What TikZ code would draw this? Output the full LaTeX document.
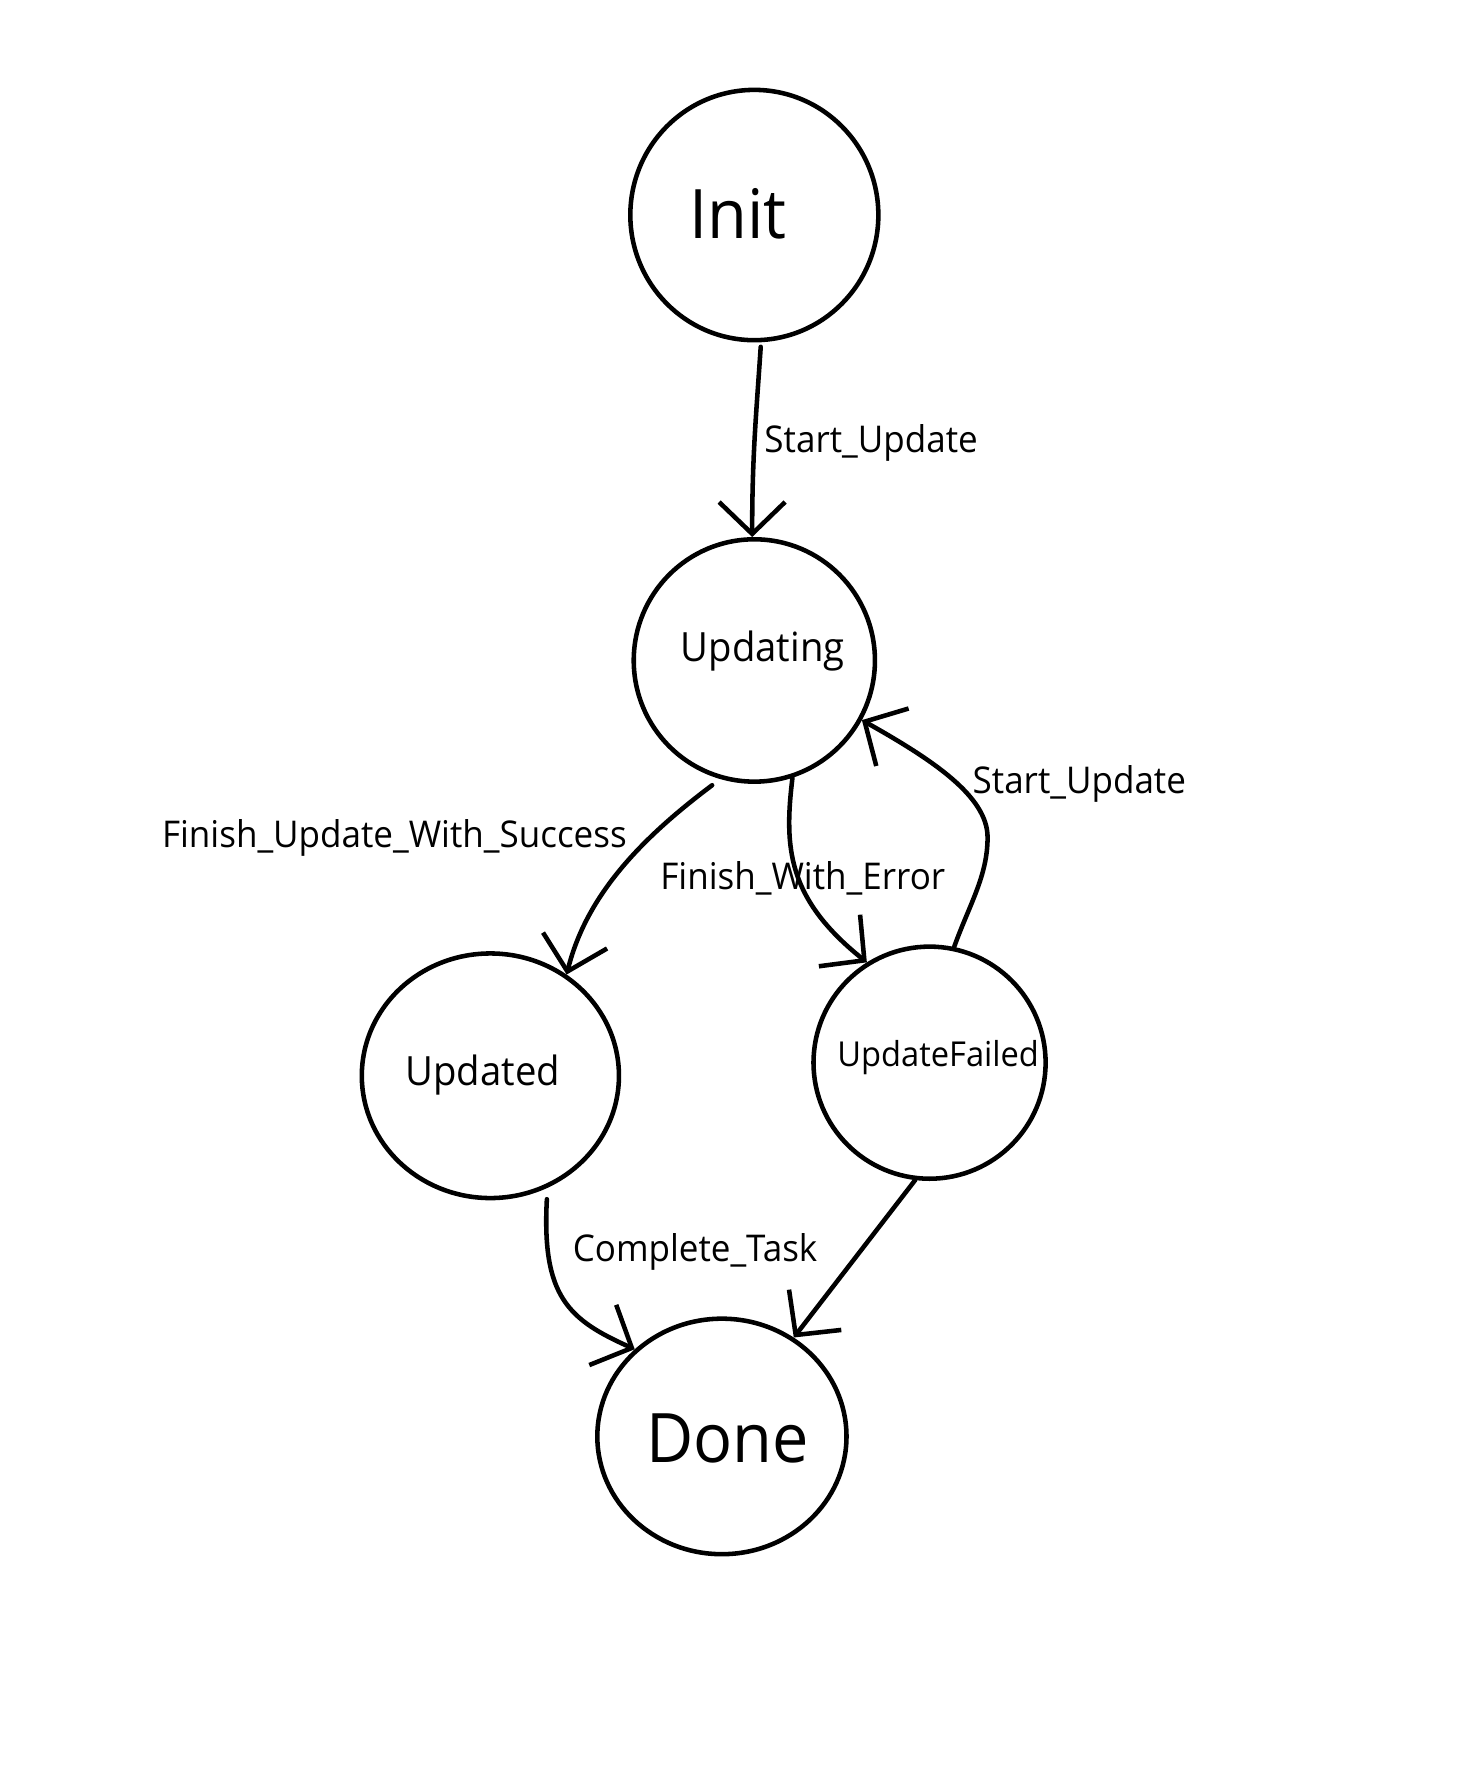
\documentclass[tikz,border=0pt]{standalone}
\usepackage{fontspec}
\setmainfont{Open Sans}[FakeStretch=0.95]
\usetikzlibrary{arrows.meta,shapes.geometric}
\begin{document}
\begin{tikzpicture}[x=0.5pt,y=-0.5pt,
  state/.style={draw,ellipse,line width=2pt,inner sep=0pt},
  conn/.style={line width=2pt,line cap=round,
    -{Straight Barb[length=14pt,width=29pt,line width=2pt]}},
  lbl/.style={anchor=base west,inner sep=0pt,font=\fontsize{16.2}{19}\selectfont},
  big/.style={anchor=base west,inner sep=0pt,font=\fontsize{30}{36}\selectfont},
  mid/.style={anchor=base west,inner sep=0pt,font=\fontsize{17.7}{21}\selectfont},
  small/.style={anchor=base west,inner sep=0pt,font=\fontsize{15.1}{18}\selectfont}]
\fill[white] (0,0) rectangle (1294,1568);
\useasboundingbox (0,0) rectangle (1294,1568);

% states
\node[state,minimum width=109pt,minimum height=110pt] (init) at (663,189) {};
\node[state,minimum width=106pt,minimum height=106.5pt] (updating) at (663,580.5) {};
\node[state,minimum width=113pt,minimum height=107.5pt] (updated) at (431,945.5) {};
\node[state,minimum width=102pt,minimum height=102pt] (uf) at (817,934) {};
\node[state,minimum width=109.5pt,minimum height=103.5pt] (done) at (634.5,1262.5) {};

% state texts
\node[big] (initT) at (605.5,209.5) {Init};
\node[mid] (updatingT) at (598,581.7) {Updating};
\node[mid] (updatedT) at (356,954) {Updated};
\node[small] (ufT) at (735.6,937) {UpdateFailed};
\node[big] (doneT) at (567.5,1285) {Done};

% connectors
\draw[conn,shorten <=2pt] (init.-87) .. controls (665,360) and (661,400) .. (updating.91);
\draw[conn,shorten <=4.5pt] (updating.-106) .. controls (562,738) and (515,788) .. (updated.53);
\draw[conn] (updating.-72) .. controls (689,745) and (692,790) .. (uf.122);
\draw[conn] (uf.78) .. controls (852,795) and (868,770) .. (868,736)
  .. controls (868,700) and (820,668) .. (updating.-29);
\draw[conn,shorten <=5pt] (updated.-63) .. controls (476,1140) and (500,1160) .. (done.135);
\draw[conn] (uf.-97) -- (done.54);

% labels
\node[lbl] (l1) at (671.5,397.5) {Start\_Update};
\node[lbl] (l2) at (142,744.5) {Finish\_Update\_With\_Success};
\node[lbl] (l3) at (580,781.5) {Finish\_With\_Error};
\node[lbl] (l4) at (854.5,697) {Start\_Update};
\node[lbl] (l5) at (503,1109) {Complete\_Task};
\end{tikzpicture}
\end{document}
